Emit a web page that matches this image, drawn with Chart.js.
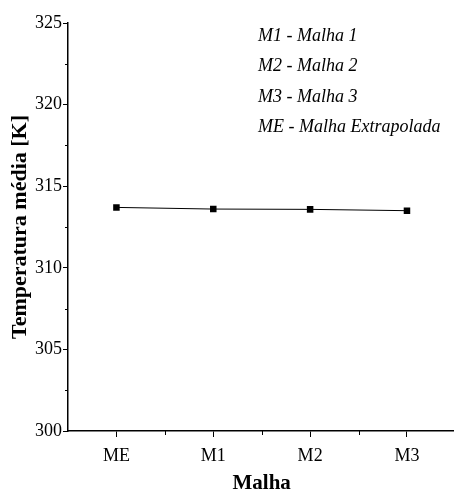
<!DOCTYPE html>
<html lang="pt">
<head>
    <meta charset="UTF-8">
    <title>Temperatura média por malha</title>
    <script src="https://cdn.jsdelivr.net/npm/chart.js"></script>
    <style>
        html, body { margin: 0; padding: 0; background: #fff; overflow: hidden; }
        canvas { display: block; }
    </style>
</head>
<body>
    <canvas id="meshChart" width="460" height="496"></canvas>

    <script>
        const meshLabels = ['ME', 'M1', 'M2', 'M3'];
        const meanTemp = [313.7, 313.6, 313.58, 313.5];
        const yMin = 300, yMax = 325, yStep = 5;
        const legendNotes = ['M1 - Malha 1', 'M2 - Malha 2', 'M3 - Malha 3', 'ME - Malha Extrapolada'];

        const serif = '"Liberation Serif", "DejaVu Serif", serif';

        // minor ticks on both axes + the italic note block
        const extrasPlugin = {
            id: 'extras',
            afterDraw(chart) {
                const ctx = chart.ctx;
                const x = chart.scales.x, y = chart.scales.y;
                const area = chart.chartArea;
                ctx.save();
                ctx.strokeStyle = '#000';
                ctx.lineWidth = 1;
                ctx.beginPath();
                for (let v = yMin + yStep / 2; v < yMax; v += yStep) {
                    const py = Math.round(y.getPixelForValue(v)) + 0.5;
                    ctx.moveTo(area.left - 3, py);
                    ctx.lineTo(area.left, py);
                }
                for (let i = 0; i < meshLabels.length - 1; i++) {
                    const px = Math.round((x.getPixelForValue(i) + x.getPixelForValue(i + 1)) / 2) + 0.5;
                    ctx.moveTo(px, area.bottom);
                    ctx.lineTo(px, area.bottom + 4);
                }
                ctx.stroke();

                ctx.fillStyle = '#000';
                ctx.font = 'italic 18px ' + serif;
                ctx.textAlign = 'left';
                ctx.textBaseline = 'middle';
                legendNotes.forEach((t, i) => {
                    ctx.fillText(t, 258, 36 + i * 30.5);
                });
                ctx.restore();
            }
        };

        new Chart(document.getElementById('meshChart'), {
            type: 'line',
            data: {
                labels: meshLabels,
                datasets: [{
                    data: meanTemp,
                    borderColor: '#000',
                    borderWidth: 1,
                    backgroundColor: '#000',
                    pointStyle: 'rect',
                    pointRadius: 4.6,
                    pointBorderWidth: 0,
                    tension: 0
                }]
            },
            options: {
                responsive: false,
                animation: false,
                layout: { padding: { top: 23, right: 0, left: 0, bottom: 0 } },
                plugins: { legend: { display: false }, tooltip: { enabled: false } },
                scales: {
                    x: {
                        offset: true,
                        afterFit(s) { s.height = 65; },
                        grid: { drawOnChartArea: false, offset: false, tickLength: 6, tickColor: '#000', tickWidth: 1 },
                        border: { color: '#000', width: 1.5 },
                        ticks: { color: '#000', padding: 8, font: { family: serif, size: 18 } },
                        title: {
                            display: true, text: 'Malha', color: '#000',
                            padding: { top: 0, bottom: 0 },
                            font: { family: serif, size: 21, weight: 'bold' }
                        }
                    },
                    y: {
                        min: yMin, max: yMax,
                        afterFit(s) { s.width = 68; },
                        grid: { drawOnChartArea: false, tickLength: 5, tickColor: '#000', tickWidth: 1 },
                        border: { color: '#000', width: 1.5 },
                        ticks: { stepSize: yStep, color: '#000', padding: 1, font: { family: serif, size: 18 } },
                        title: {
                            display: true, text: 'Temperatura média [K]', color: '#000',
                            padding: { top: 7, bottom: 4 },
                            font: { family: serif, size: 22, weight: 'bold' }
                        }
                    }
                }
            },
            plugins: [extrasPlugin]
        });
    </script>
</body>
</html>
